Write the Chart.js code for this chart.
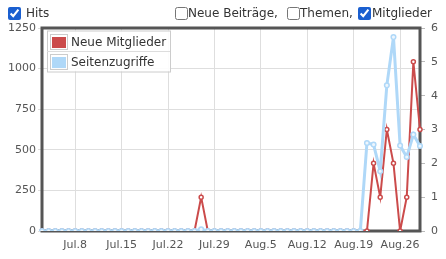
<!DOCTYPE html>
<html>
<head>
<meta charset="utf-8">
<script src="https://cdn.jsdelivr.net/npm/chart.js@4"></script>
<style>
  html, body { margin: 0; padding: 0; background: #fff; }
  body { width: 446px; height: 259px; position: relative; overflow: hidden;
         font-family: 'DejaVu Sans', sans-serif; font-size: 12px; color: #333; }
  #chart { position: absolute; left: 0; top: 0; }
  .cb { position: absolute; top: 7px; width: 13px; height: 13px; margin: 0; accent-color: #1a5fd0; }
  .lbl { position: absolute; top: 6px; line-height: 14px; white-space: nowrap; }
</style>
</head>
<body>
<canvas id="chart" width="446" height="259"></canvas>
<input type="checkbox" class="cb" style="left:8px" checked>
<span class="lbl" style="left:26px">Hits</span>
<input type="checkbox" class="cb" style="left:175px">
<span class="lbl" style="left:188px">Neue Beiträge,</span>
<input type="checkbox" class="cb" style="left:287px">
<span class="lbl" style="left:300px">Themen,</span>
<input type="checkbox" class="cb" style="left:358px" checked>
<span class="lbl" style="left:372px">Mitglieder</span>
<script>
// Tage (Kategorien)
const days = [
  'Jul.3', 'Jul.4', 'Jul.5', 'Jul.6', 'Jul.7', 'Jul.8', 'Jul.9', 'Jul.10', 'Jul.11', 'Jul.12',
  'Jul.13', 'Jul.14', 'Jul.15', 'Jul.16', 'Jul.17', 'Jul.18', 'Jul.19', 'Jul.20', 'Jul.21', 'Jul.22',
  'Jul.23', 'Jul.24', 'Jul.25', 'Jul.26', 'Jul.27', 'Jul.28', 'Jul.29', 'Jul.30', 'Jul.31',
  'Aug.1', 'Aug.2', 'Aug.3', 'Aug.4', 'Aug.5', 'Aug.6', 'Aug.7', 'Aug.8', 'Aug.9', 'Aug.10',
  'Aug.11', 'Aug.12', 'Aug.13', 'Aug.14', 'Aug.15', 'Aug.16', 'Aug.17', 'Aug.18', 'Aug.19', 'Aug.20',
  'Aug.21', 'Aug.22', 'Aug.23', 'Aug.24', 'Aug.25', 'Aug.26', 'Aug.27', 'Aug.28', 'Aug.29'
];
const weekTicks = ['Jul.8', 'Jul.15', 'Jul.22', 'Jul.29', 'Aug.5', 'Aug.12', 'Aug.19', 'Aug.26'];

// Seitenzugriffe (linke Achse)
const hits = [
  0, 0, 0, 0, 0, 0, 0, 0, 0, 0,
  0, 0, 0, 0, 0, 0, 0, 0, 0, 0,
  0, 0, 0, 0, 10, 0, 0, 0, 0, 0,
  0, 0, 0, 0, 0, 0, 0, 0, 0, 0,
  0, 0, 0, 0, 0, 0, 0, 0, 0, 542,
  532, 368, 897, 1194, 526, 456, 594, 523
];
// Neue Mitglieder (rechte Achse)
const newMembers = [
  0, 0, 0, 0, 0, 0, 0, 0, 0, 0,
  0, 0, 0, 0, 0, 0, 0, 0, 0, 0,
  0, 0, 0, 0, 1, 0, 0, 0, 0, 0,
  0, 0, 0, 0, 0, 0, 0, 0, 0, 0,
  0, 0, 0, 0, 0, 0, 0, 0, 0, 0,
  2, 1, 3, 2, 0, 1, 5, 3
];

const hitsTicks = [0, 250, 500, 750, 1000, 1250];
const memberTicks = [0, 1, 2, 3, 4, 5, 6];

const RED = '#cb4b4b';
const BLUE = '#afd8f8';
const FONT = 'DejaVu Sans';

// Rahmen um die Zeichenfläche
const borderPlugin = {
    id: 'plotBorder',
    beforeDatasetsDraw(chart) {
        const { ctx, chartArea: a } = chart;
        ctx.save();
        ctx.strokeStyle = '#555';
        ctx.lineWidth = 3;
        ctx.strokeRect(a.left, a.top, a.right - a.left, a.bottom - a.top);
        ctx.restore();
    }
};

// Legende innerhalb der Zeichenfläche (oben links)
const innerLegend = {
    id: 'innerLegend',
    afterDatasetsDraw(chart) {
        const { ctx } = chart;
        const x = 47, y = 30.5, w = 123, h = 41;
        ctx.save();
        ctx.fillStyle = 'rgba(255,255,255,0.9)';
        ctx.fillRect(x, y, w, h);
        ctx.strokeStyle = '#ccc';
        ctx.lineWidth = 1;
        ctx.strokeRect(x + 0.5, y + 0.5, w, h);
        ctx.strokeStyle = '#ddd';
        ctx.beginPath();
        ctx.moveTo(x, 51.5);
        ctx.lineTo(x + w, 51.5);
        ctx.stroke();
        ctx.font = '12px "' + FONT + '"';
        ctx.textBaseline = 'middle';
        chart.data.datasets.forEach((ds, i) => {
            const ry = 34 + i * 20;
            ctx.strokeStyle = '#ccc';
            ctx.strokeRect(50.5, ry + 0.5, 17, 15);
            ctx.fillStyle = ds.borderColor;
            ctx.fillRect(52, ry + 3, 14, 11);
            ctx.fillStyle = '#333';
            ctx.fillText(ds.label, 71, ry + 8.5);
        });
        ctx.restore();
    }
};

new Chart(document.getElementById('chart'), {
    type: 'line',
    data: {
        labels: days,
        datasets: [
            {
                label: 'Neue Mitglieder',
                data: newMembers,
                yAxisID: 'y1',
                borderColor: RED,
                backgroundColor: RED,
                borderWidth: 2,
                pointRadius: 2,
                pointBorderWidth: 1.5,
                pointBackgroundColor: '#fff',
                pointBorderColor: RED,
                tension: 0,
                order: 1
            },
            {
                label: 'Seitenzugriffe',
                data: hits,
                yAxisID: 'y',
                borderColor: BLUE,
                backgroundColor: BLUE,
                borderWidth: 3,
                pointRadius: 2.3,
                pointBorderWidth: 1.5,
                pointBackgroundColor: '#eef6fd',
                pointBorderColor: BLUE,
                tension: 0,
                order: 0
            }
        ]
    },
    options: {
        responsive: false,
        animation: false,
        layout: { padding: { top: 28, left: 0, right: 0, bottom: 0 } },
        plugins: {
            legend: { display: false },
            tooltip: { enabled: false }
        },
        scales: {
            x: {
                type: 'category',
                offset: false,
                border: { display: false },
                grid: {
                    color: c => (c.tick && weekTicks.includes(days[c.tick.value])) ? '#dedede' : 'rgba(0,0,0,0)',
                    drawTicks: false
                },
                ticks: {
                    autoSkip: false,
                    maxRotation: 0,
                    color: '#555',
                    padding: 8,
                    font: { family: FONT, size: 11 },
                    callback(val) {
                        const l = this.getLabelForValue(val);
                        return weekTicks.includes(l) ? l : '';
                    }
                },
                afterFit(s) { s.height = 28; }
            },
            y: {
                position: 'left',
                min: hitsTicks[0],
                max: hitsTicks[hitsTicks.length - 1],
                border: { display: false },
                grid: { color: '#dedede', tickLength: 4 },
                ticks: {
                    stepSize: 250,
                    color: '#555',
                    padding: 2,
                    font: { family: FONT, size: 11 },
                    callback: v => String(v)
                },
                afterFit(s) { s.width = 42; }
            },
            y1: {
                position: 'right',
                min: memberTicks[0],
                max: memberTicks[memberTicks.length - 1],
                border: { display: false },
                grid: { drawOnChartArea: false, color: '#bbb', tickLength: 5 },
                ticks: {
                    stepSize: 1,
                    color: '#555',
                    padding: 6,
                    font: { family: FONT, size: 11 },
                    callback: v => String(v)
                },
                afterFit(s) { s.width = 26; }
            }
        }
    },
    plugins: [borderPlugin, innerLegend]
});
</script>
</body>
</html>
